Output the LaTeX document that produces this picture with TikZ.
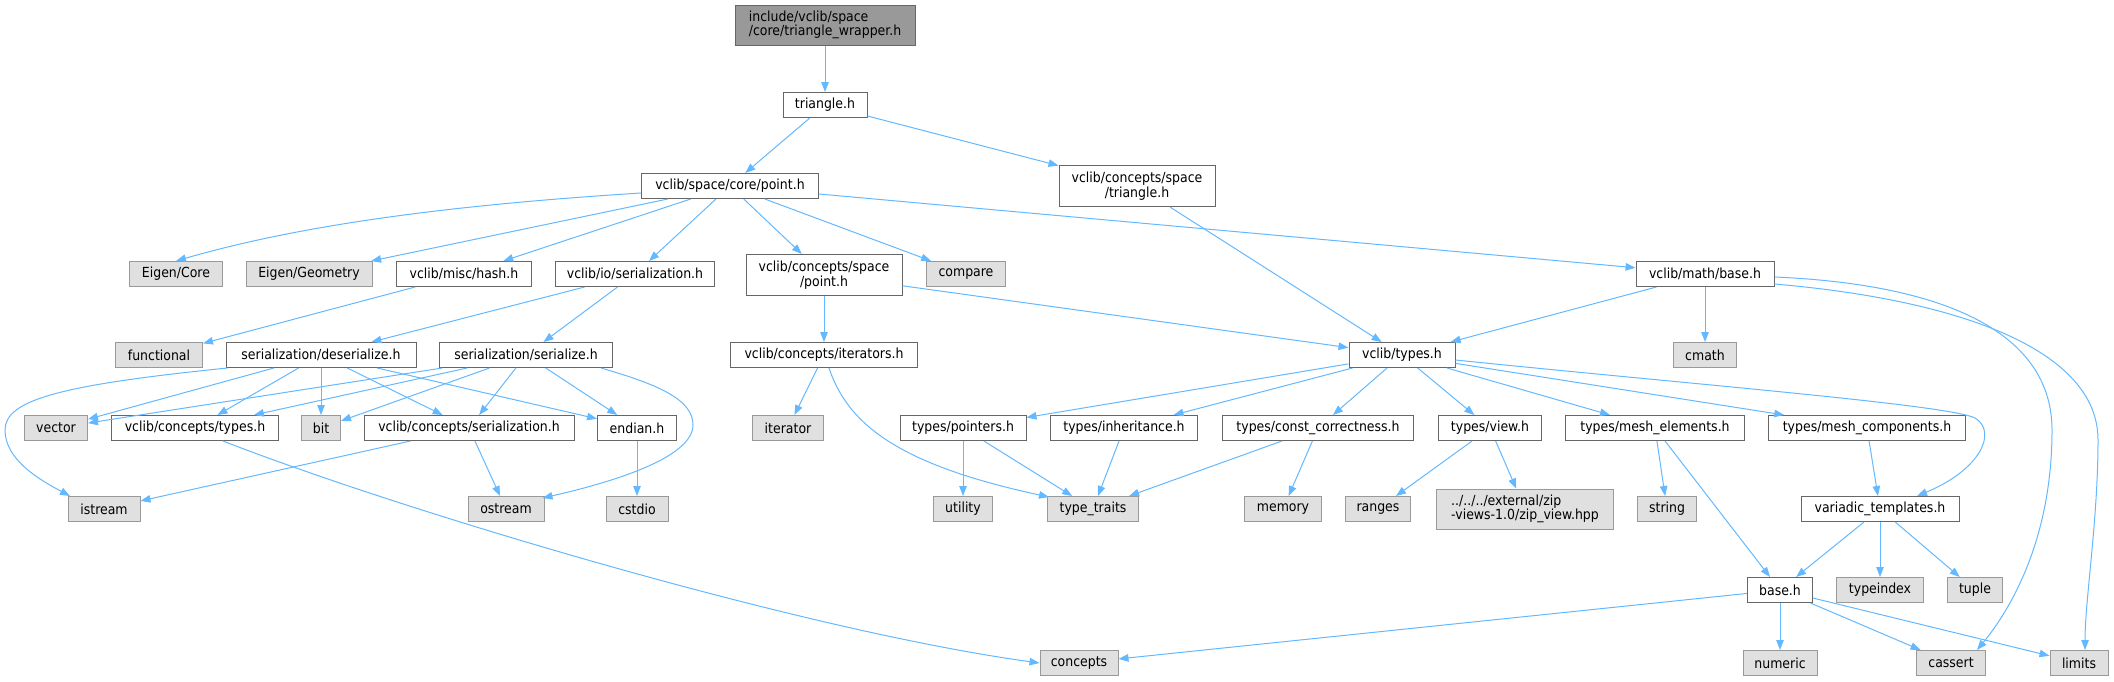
\documentclass[tikz,border=0pt]{standalone}
\usepackage{fontspec}
\setmainfont{DejaVu Sans Condensed}
\usetikzlibrary{arrows.meta}
\definecolor{edgec}{HTML}{63B8FF}
\definecolor{bordw}{HTML}{666666}
\definecolor{bordg}{HTML}{999999}
\definecolor{sysfill}{HTML}{E0E0E0}
\definecolor{topfill}{HTML}{999999}
\begin{document}
\begin{tikzpicture}[x=1pt,y=-1pt,
  box/.style={draw=bordw, fill=white, line width=1pt, minimum height=25pt, inner sep=0pt,
    font=\fontsize{13.9}{14.5}\selectfont, text=black},
  sys/.style={box, draw=bordg, fill=sysfill},
  e/.style={draw=edgec, line width=1pt, -{Triangle[length=10pt,width=7.5pt]}}]
\useasboundingbox (0,0) rectangle (2114,681);
% nodes
\node[box, fill=topfill, minimum width=180pt, minimum height=40pt, align=left] (wrap) at (825,25) {include/vclib/space\\/core/triangle\_wrapper.h};
\node[box, minimum width=84pt] (tri) at (825,105) {triangle.h};
\node[box, minimum width=177pt] (point) at (730,186) {vclib/space/core/point.h};
\node[box, minimum width=156pt, minimum height=41pt, align=center] (cst) at (1137,186) {vclib/concepts/space\\/triangle.h};
\node[sys, minimum width=93pt] (eigc) at (176,274) {Eigen/Core};
\node[sys, minimum width=126pt] (eigg) at (309,274) {Eigen/Geometry};
\node[box, minimum width=135pt] (hash) at (464,274) {vclib/misc/hash.h};
\node[box, minimum width=159pt] (ioser) at (635,274) {vclib/io/serialization.h};
\node[box, minimum width=156pt, minimum height=41pt, align=center] (csp) at (824,275) {vclib/concepts/space\\/point.h};
\node[sys, minimum width=79pt] (compare) at (966,274) {compare};
\node[box, minimum width=138pt] (mathb) at (1705,274) {vclib/math/base.h};
\node[sys, minimum width=87pt] (functional) at (159,355) {functional};
\node[box, minimum width=190pt] (deser) at (321,355) {serialization/deserialize.h};
\node[box, minimum width=173pt] (ser) at (526,355) {serialization/serialize.h};
\node[box, minimum width=187pt] (iters) at (824,355) {vclib/concepts/iterators.h};
\node[box, minimum width=106pt] (vtypes) at (1402,355) {vclib/types.h};
\node[sys, minimum width=63pt] (cmath) at (1705,355) {cmath};
\node[sys, minimum width=63pt] (vector) at (56,428) {vector};
\node[box, minimum width=167pt] (ctypes) at (195,428) {vclib/concepts/types.h};
\node[sys, minimum width=39pt] (bit) at (321,428) {bit};
\node[box, minimum width=210pt] (cser) at (469,428) {vclib/concepts/serialization.h};
\node[box, minimum width=79pt] (endian) at (637,428) {endian.h};
\node[sys, minimum width=71pt] (iterator) at (788,428) {iterator};
\node[box, minimum width=126pt] (pointers) at (963,428) {types/pointers.h};
\node[box, minimum width=147pt] (inher) at (1124,428) {types/inheritance.h};
\node[box, minimum width=191pt] (constc) at (1318,428) {types/const\_correctness.h};
\node[box, minimum width=103pt] (view) at (1490,428) {types/view.h};
\node[box, minimum width=179pt] (meshel) at (1655,428) {types/mesh\_elements.h};
\node[box, minimum width=197pt] (meshco) at (1867,428) {types/mesh\_components.h};
\node[sys, minimum width=72pt] (istream) at (104,509) {istream};
\node[sys, minimum width=76pt] (ostream) at (506,509) {ostream};
\node[sys, minimum width=62pt] (cstdio) at (637,509) {cstdio};
\node[sys, minimum width=59pt] (utility) at (963,509) {utility};
\node[sys, minimum width=91pt] (ttraits) at (1093,509) {type\_traits};
\node[sys, minimum width=77pt] (memory) at (1283,509) {memory};
\node[sys, minimum width=65pt] (ranges) at (1378,509) {ranges};
\node[sys, minimum width=177pt, minimum height=40pt, align=left] (zip) at (1525,509) {../../../external/zip\\-views-1.0/zip\_view.hpp};
\node[sys, minimum width=59pt] (string) at (1667,509) {string};
\node[box, minimum width=158pt] (variadic) at (1880,509) {variadic\_templates.h};
\node[box, minimum width=65pt] (base) at (1780,590) {base.h};
\node[sys, minimum width=87pt] (typeindex) at (1880,590) {typeindex};
\node[sys, minimum width=55pt] (tuple) at (1975,590) {tuple};
\node[sys, minimum width=78pt] (concepts) at (1079,663) {concepts};
\node[sys, minimum width=74pt] (numeric) at (1780,663) {numeric};
\node[sys, minimum width=69pt] (cassert) at (1951,663) {cassert};
\node[sys, minimum width=58pt] (limits) at (2079,663) {limits};
% edges
\draw[e] (wrap) -- (tri);
\draw[e] (tri) -- (point);
\draw[e] (tri) -- (cst);
\draw[e] ([yshift=-7pt]point.west) .. controls (450,205) and (300,225) .. (eigc.north);
\draw[e] (point) -- (eigg);
\draw[e] (point) -- (hash);
\draw[e] (point) -- (ioser);
\draw[e] (point) -- (csp);
\draw[e] (point) -- (compare);
\draw[e] (point) -- (mathb);
\draw[e] (cst) -- (vtypes);
\draw[e] (hash) -- (functional);
\draw[e] (ioser) -- (deser);
\draw[e] (ioser) -- (ser);
\draw[e] (csp) -- (iters);
\draw[e] (csp) -- (vtypes);
\draw[e] (mathb) -- (vtypes);
\draw[e] (mathb) -- (cmath);
\draw[e] ([yshift=-3pt]mathb.east) .. controls (1960,285) and (2052,340) .. (2052,430) .. controls (2052,540) and (2010,610) .. ([xshift=26pt]cassert.north);
\draw[e] ([yshift=-10pt]mathb.east) .. controls (1960,300) and (2098,350) .. (2098,440) .. controls (2098,520) and (2085,600) .. ([xshift=6pt]limits.north);
\draw[e] (deser) -- (vector);
\draw[e] (deser) -- (ctypes);
\draw[e] (deser) -- (bit);
\draw[e] (deser) -- (cser);
\draw[e] (deser) -- (endian);
\draw[e] ([xshift=2pt]deser.south west) .. controls (60,385) and (5,400) .. (5,430) .. controls (5,460) and (40,480) .. ([xshift=-34pt]istream.north);
\draw[e] (ser) -- (vector);
\draw[e] (ser) -- (ctypes);
\draw[e] (ser) -- (bit);
\draw[e] (ser) -- (cser);
\draw[e] (ser) -- (endian);
\draw[e] ([xshift=-12pt]ser.south east) .. controls (660,385) and (693,400) .. (693,425) .. controls (693,460) and (600,485) .. ([xshift=-2pt,yshift=-2pt]ostream.north east);
\draw[e] (iters) -- (iterator);
\draw[e] ([xshift=5pt]iters.south) .. controls (848,425) and (900,465) .. ([xshift=2pt,yshift=-1pt]ttraits.north west);
\draw[e] (vtypes) -- (pointers);
\draw[e] (vtypes) -- (inher);
\draw[e] (vtypes) -- (constc);
\draw[e] (vtypes) -- (view);
\draw[e] (vtypes) -- (meshel);
\draw[e] (vtypes) -- (meshco);
\draw[e] ([yshift=-5pt]vtypes.east) .. controls (1700,385) and (1950,405) .. (1975,418) .. controls (1998,432) and (1980,470) .. ([xshift=37pt]variadic.north);
\draw[e] ([xshift=28pt]ctypes.south) .. controls (400,510) and (800,630) .. (concepts.west);
\draw[e] (cser) -- (istream);
\draw[e] (cser) -- (ostream);
\draw[e] (endian) -- (cstdio);
\draw[e] (pointers) -- (utility);
\draw[e] (pointers) -- (ttraits);
\draw[e] (inher) -- (ttraits);
\draw[e] (constc) -- (ttraits);
\draw[e] (constc) -- (memory);
\draw[e] (view) -- (ranges);
\draw[e] (view) -- (zip);
\draw[e] (meshel) -- (string);
\draw[e] (meshel) -- (base);
\draw[e] (meshco) -- (variadic);
\draw[e] (variadic) -- (base);
\draw[e] (variadic) -- (typeindex);
\draw[e] (variadic) -- (tuple);
\draw[e] (base) -- (concepts);
\draw[e] (base) -- (numeric);
\draw[e] (base) -- (cassert);
\draw[e] (base) -- (limits);
\end{tikzpicture}
\end{document}
